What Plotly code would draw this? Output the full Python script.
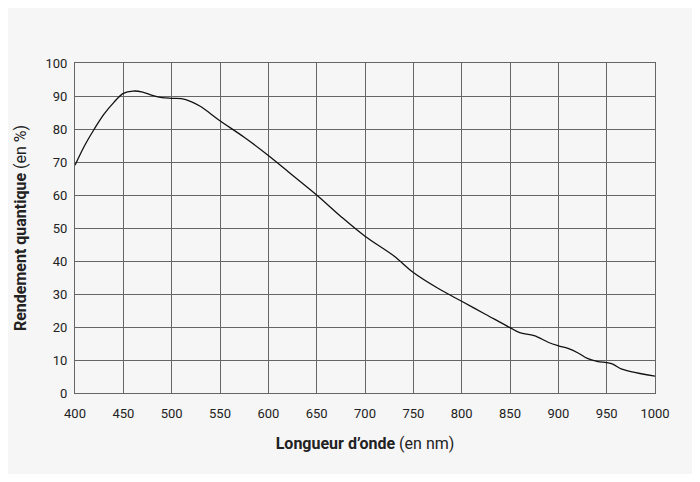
import plotly.graph_objects as go

wavelength = [400,410,420,430,440,450,460,470,480,490,500,510,520,530,550,575,600,625,650,675,700,730,750,775,800,825,850,860,875,890,900,910,920,930,940,955,965,975,1000]
qe = [69,75,80,84.5,88,90.8,91.5,91.2,90.2,89.5,89.3,89.2,88.3,86.8,82.5,77.5,72,66,60,53.5,47.5,41.5,36.5,31.8,27.8,23.8,19.8,18.3,17.4,15.3,14.3,13.5,12.2,10.5,9.6,8.9,7.3,6.5,5.1]

fig = go.Figure(go.Scatter(x=wavelength, y=qe, mode="lines", line=dict(color="#111", width=1.3, shape="spline")))
axis = dict(showgrid=True, gridcolor="#666", gridwidth=0.8, showline=True, linecolor="#666", mirror=True,
            zeroline=False, tickfont=dict(size=13, color="#222"), ticks="")
fig.update_layout(
    width=684, height=466, margin=dict(l=67, r=37, t=55, b=81),
    paper_bgcolor="#f6f6f6", plot_bgcolor="#f6f6f6", showlegend=False,
    font=dict(family="Roboto, Arial", color="#222"),
    xaxis=dict(axis, range=[400,1000], dtick=50, ticklabelstandoff=8,
               title=dict(text="<b>Longueur d’onde</b> (en nm)", font=dict(size=16), standoff=18)),
    yaxis=dict(axis, range=[0,100], dtick=10, ticklabelstandoff=4,
               title=dict(text="<b>Rendement quantique</b> (en %)", font=dict(size=16), standoff=14)),
)
fig.write_html("out.html")
